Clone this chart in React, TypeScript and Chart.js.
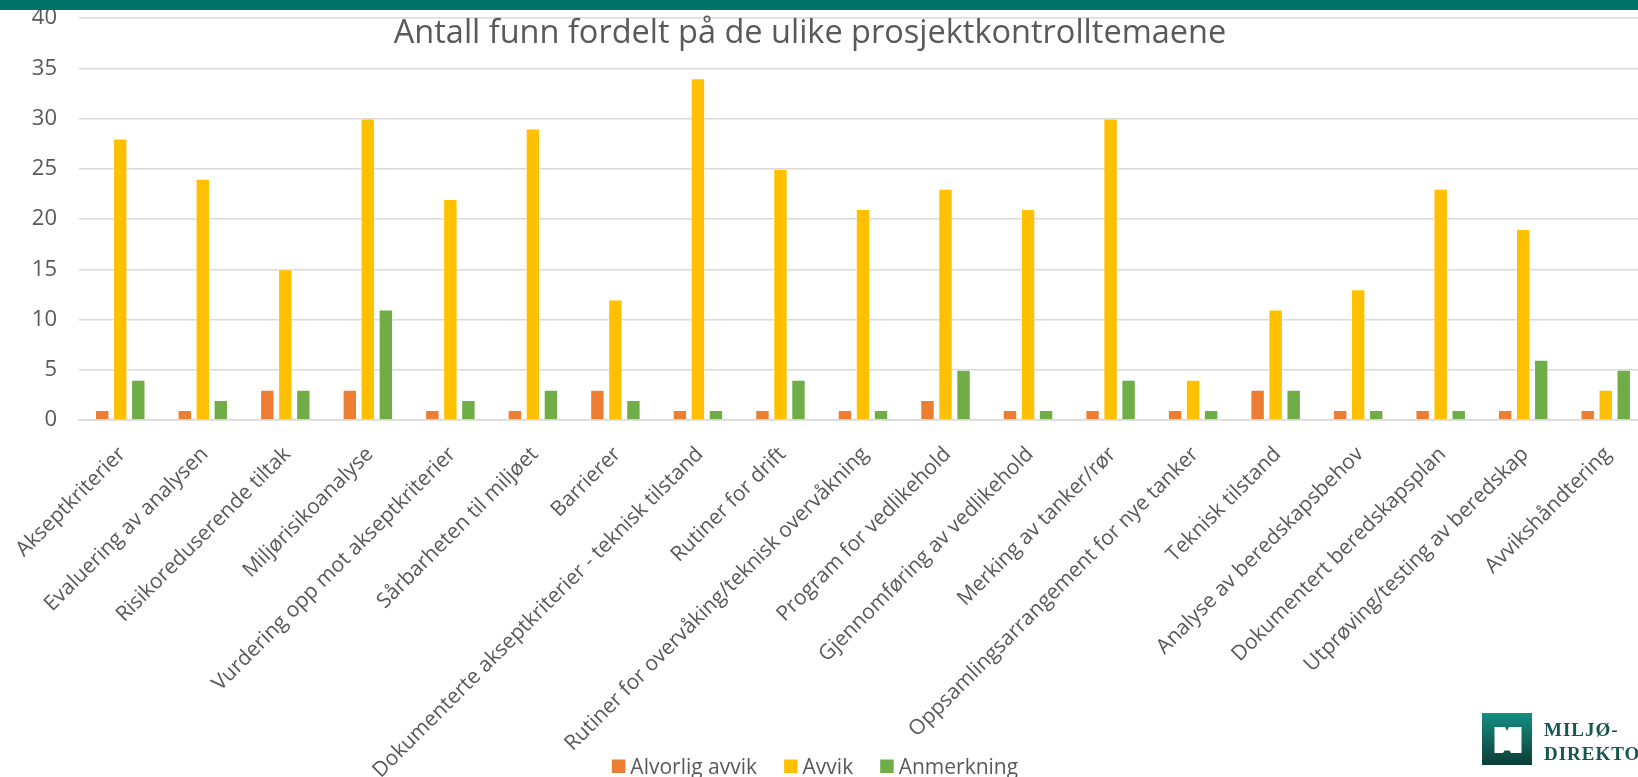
import React, { useEffect, useRef } from "react";
import { Chart, registerables } from "chart.js";

Chart.register(...registerables);

const chartTitle = "Antall funn fordelt på de ulike prosjektkontrolltemaene";

const categories = [
  "Akseptkriterier",
  "Evaluering av analysen",
  "Risikoreduserende tiltak",
  "Miljørisikoanalyse",
  "Vurdering opp mot akseptkriterier",
  "Sårbarheten til miljøet",
  "Barrierer",
  "Dokumenterte akseptkriterier - teknisk tilstand",
  "Rutiner for drift",
  "Rutiner for overvåking/teknisk overvåkning",
  "Program for vedlikehold",
  "Gjennomføring av vedlikehold",
  "Merking av tanker/rør",
  "Oppsamlingsarrangement for nye tanker",
  "Teknisk tilstand",
  "Analyse av beredskapsbehov",
  "Dokumentert beredskapsplan",
  "Utprøving/testing av beredskap",
  "Avvikshåndtering",
];

const alvorligAvvik = [1, 1, 3, 3, 1, 1, 3, 1, 1, 1, 2, 1, 1, 1, 3, 1, 1, 1, 1];
const avvik = [28, 24, 15, 30, 22, 29, 12, 34, 25, 21, 23, 21, 30, 4, 11, 13, 23, 19, 3];
const anmerkning = [4, 2, 3, 11, 2, 3, 2, 1, 4, 1, 5, 1, 4, 1, 3, 1, 1, 6, 5];

const seriesNames = ["Alvorlig avvik", "Avvik", "Anmerkning"];
const seriesColors = ["#ED7D31", "#FFC000", "#70AD47"];

const yMin = 0;
const yMax = 40;
const yStep = 5;

const textColor = "#595959";
const gridColor = "#D9D9D9";
const fontFamily = "'Open Sans', sans-serif";

const overlayPlugin = {
  id: "overlayTitleLegend",
  afterDraw(chart: any) {
    const ctx = chart.ctx as CanvasRenderingContext2D;
    ctx.save();
    // title
    ctx.fillStyle = textColor;
    ctx.font = `32.5px ${fontFamily}`;
    ctx.textAlign = "center";
    ctx.textBaseline = "alphabetic";
    ctx.fillText(chartTitle, 810, 43);

    // legend
    ctx.font = `21px ${fontFamily}`;
    ctx.textAlign = "left";
    const box = 13.5;
    const gap = 5;
    const itemGap = 27;
    const labels = chart.data.datasets.map((d: any) => d.label as string);
    const widths = labels.map((l: string) => ctx.measureText(l).width);
    let total = 0;
    widths.forEach((w: number, i: number) => {
      total += box + gap + w + (i < widths.length - 1 ? itemGap : 0);
    });
    let x = 815 - total / 2;
    chart.data.datasets.forEach((d: any, i: number) => {
      ctx.fillStyle = d.backgroundColor;
      ctx.fillRect(x, 759.5, box, box);
      ctx.fillStyle = textColor;
      ctx.fillText(labels[i], x + box + gap, 774);
      x += box + gap + widths[i] + itemGap;
    });
    ctx.restore();
  },
};

function Logo() {
  return (
    <>
      <svg
        width="50"
        height="52"
        viewBox="0 0 50 52"
        style={{ position: "absolute", left: 1482, top: 713 }}
      >
        <defs>
          <linearGradient id="lg" x1="0" y1="0" x2="0" y2="1">
            <stop offset="0" stopColor="#168f84" />
            <stop offset="1" stopColor="#0b3d36" />
          </linearGradient>
        </defs>
        <rect x="0" y="0" width="50" height="52" fill="url(#lg)" />
        <path
          d="M12.5 14 L23 14 L25 18 L27 14 L39.5 14 L39.5 40 L29 40 L27.5 37.5 L22.5 37.5 L21 40 L12.5 40 Z"
          fill="#ffffff"
        />
      </svg>
      <div
        style={{
          position: "absolute",
          left: 1544,
          top: 718,
          fontFamily: "'Liberation Serif', 'DejaVu Serif', serif",
          fontSize: 19,
          lineHeight: "24px",
          letterSpacing: 1,
          color: "#17564f",
          fontWeight: 700,
          whiteSpace: "nowrap",
        }}
      >
        <div>MILJØ-</div>
        <div>DIREKTORATET</div>
      </div>
    </>
  );
}

export default function App() {
  const canvasRef = useRef<HTMLCanvasElement | null>(null);

  useEffect(() => {
    if (!canvasRef.current) return;
    Chart.defaults.font.family = fontFamily;
    const chart = new Chart(canvasRef.current, {
      type: "bar",
      data: {
        labels: categories,
        datasets: [
          { label: seriesNames[0], data: alvorligAvvik, backgroundColor: seriesColors[0] },
          { label: seriesNames[1], data: avvik, backgroundColor: seriesColors[1] },
          { label: seriesNames[2], data: anmerkning, backgroundColor: seriesColors[2] },
        ].map((d) => ({
          ...d,
          borderColor: "rgba(255,255,255,0.5)",
          borderWidth: 1,
          categoryPercentage: 0.655,
          barPercentage: 0.8,
        })),
      },
      options: {
        responsive: false,
        animation: false,
        layout: { padding: { top: 18, left: 0, right: 0, bottom: 0 } },
        plugins: {
          legend: { display: false },
          title: { display: false },
          tooltip: { enabled: false },
        },
        scales: {
          x: {
            grid: { display: false },
            border: { display: true, color: gridColor, width: 1.5 },
            ticks: {
              color: textColor,
              font: { size: 21 },
              minRotation: 45,
              maxRotation: 45,
              autoSkip: false,
              padding: 14,
              labelOffset: 2,
            },
            afterFit: (scale: any) => {
              scale.height = 357;
              scale.paddingLeft = 0;
              scale.paddingRight = 0;
            },
          },
          y: {
            min: yMin,
            max: yMax,
            grid: { color: gridColor, lineWidth: 1.5, drawTicks: false },
            border: { display: false },
            ticks: {
              stepSize: yStep,
              color: textColor,
              font: { size: 22 },
              padding: 22,
            },
            afterFit: (scale: any) => {
              scale.width = 79;
              scale.paddingTop = 0;
              scale.paddingBottom = 0;
            },
          },
        },
      },
      plugins: [overlayPlugin],
    });
    return () => chart.destroy();
  }, []);

  return (
    <div
      style={{
        position: "fixed",
        left: 0,
        top: 0,
        width: 1638,
        height: 777,
        overflow: "hidden",
        background: "#ffffff",
      }}
    >
      <canvas ref={canvasRef} width={1647} height={777} style={{ display: "block" }} />
      <div
        style={{
          position: "absolute",
          left: 0,
          top: 0,
          width: 1638,
          height: 10,
          background: "#007369",
        }}
      />
      <Logo />
    </div>
  );
}
